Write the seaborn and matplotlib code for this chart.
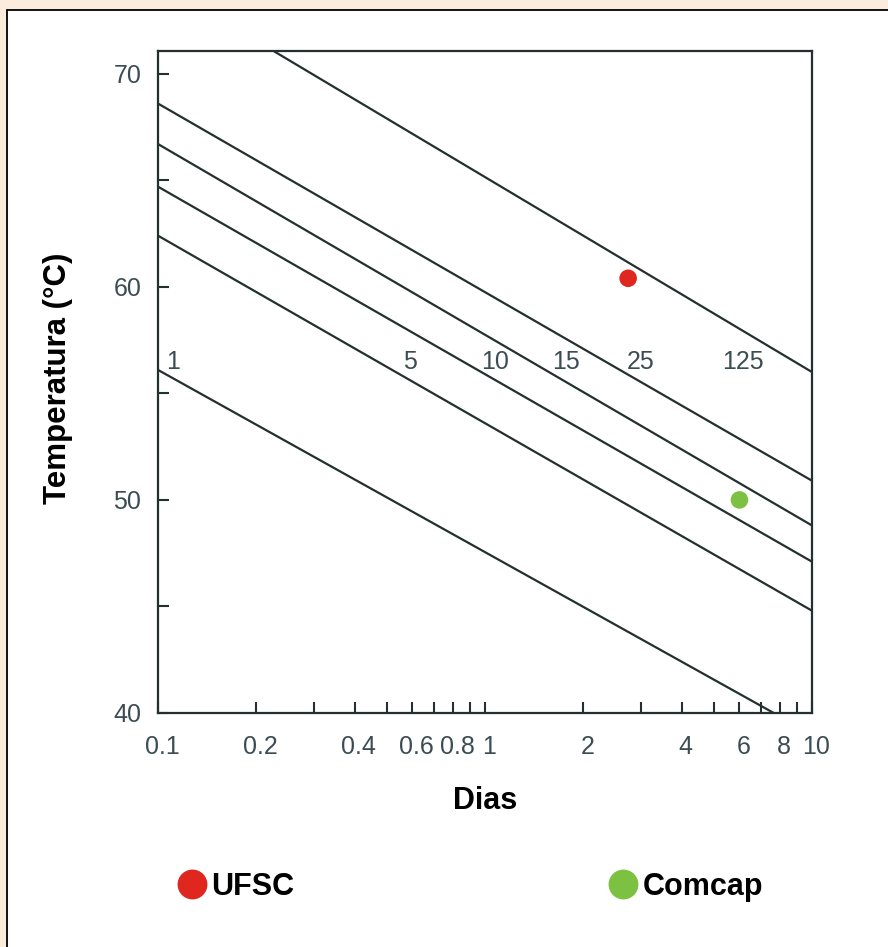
import numpy as np
import pandas as pd
import matplotlib
matplotlib.use('Agg')
import matplotlib.pyplot as plt
import matplotlib.transforms as mtransforms
import seaborn as sns
from matplotlib.patches import Rectangle
from matplotlib.lines import Line2D

# linhas tempo x temperatura (retas em escala log): T em x=0.1 e em x=10
linhas = ['1', '5', '10', '15', '25', '125']
temp_01 = [56.1, 62.4, 64.7, 66.7, 68.6, 74.3]
temp_10 = [39.0, 44.8, 47.1, 48.8, 50.9, 56.0]
dias_ext = [0.1, 10]

# pontos medidos
locais = ['UFSC', 'Comcap']
dias_pt = [2.74, 6.0]
temp_pt = [60.4, 50.0]

# onde escrever o nome de cada linha
rotulo_x = [0.111, 0.59, 1.07, 1.77, 3.0, 6.15]
rotulo_y = 56.47

xticks = [0.1, 0.2, 0.3, 0.4, 0.5, 0.6, 0.7, 0.8, 0.9, 1, 2, 3, 4, 5, 6, 7, 8, 9, 10]
xticklabels = ['0.1', '0.2', '', '0.4', '', '0.6', '', '0.8', '', '1', '2', '', '4', '', '6', '', '8', '', '10']
yticks = [40, 45, 50, 55, 60, 65, 70]
yticklabels = ['40', '', '50', '', '60', '', '70']

rows = []
for nome, a, b in zip(linhas, temp_01, temp_10):
    rows.append({'linha': nome, 'dias': dias_ext[0], 'temp': a})
    rows.append({'linha': nome, 'dias': dias_ext[1], 'temp': b})
df_linhas = pd.DataFrame(rows)
df_pts = pd.DataFrame({'local': locais, 'dias': dias_pt, 'temp': temp_pt})

sns.set_style('white')
plt.rcParams['font.family'] = ['Liberation Sans', 'DejaVu Sans']

peach = '#fcecde'
dark = '#24302f'
tick_col = '#3b4d53'

fig = plt.figure(figsize=(8.88, 9.47), dpi=100, facecolor=peach)
# painel branco com borda preta em cima e à esquerda
fig.patches.append(Rectangle((7 / 888, 0.0), 1.0, 1 - 10 / 947, transform=fig.transFigure,
                             facecolor='white', edgecolor='none', zorder=-10))
fig.lines.append(Line2D([7 / 888, 7 / 888], [0, 1 - 10 / 947], transform=fig.transFigure,
                        color='black', lw=1.3, zorder=-5))
fig.lines.append(Line2D([7 / 888, 1], [1 - 10 / 947, 1 - 10 / 947], transform=fig.transFigure,
                        color='black', lw=1.3, zorder=-5))

ax = fig.add_axes([158 / 888, 1 - 713 / 947, 654 / 888, (713 - 50.7) / 947])
ax.set_facecolor('white')

sns.lineplot(data=df_linhas, x='dias', y='temp', units='linha', estimator=None,
             color=dark, lw=1.6, ax=ax)
sns.scatterplot(data=df_pts, x='dias', y='temp', hue='local',
                palette=['#e0271f', '#7cc142'], s=160, edgecolor='none', ax=ax, zorder=5)

ax.set_xscale('log')
ax.set_xlim(0.1, 10)
ax.set_ylim(40.33, 71.08)

ax.set_xticks(xticks)
ax.set_xticklabels(xticklabels)
ax.xaxis.set_minor_locator(matplotlib.ticker.NullLocator())
ax.set_yticks(yticks)
ax.set_yticklabels(yticklabels)
ax.tick_params(axis='both', direction='in', length=8, width=1.5, colors=dark,
               labelcolor=tick_col, labelsize=18)
ax.tick_params(axis='x', pad=16, bottom=True)
ax.tick_params(axis='y', pad=12, left=True)
shift = mtransforms.ScaledTranslation(4 / 100, 0, fig.dpi_scale_trans)
for lab in ax.get_xticklabels():
    lab.set_transform(lab.get_transform() + shift)
for s in ax.spines.values():
    s.set_color(dark)
    s.set_linewidth(1.6)

for nome, xr in zip(linhas, rotulo_x):
    ax.text(xr, rotulo_y, nome, ha='center', va='center', fontsize=18, color=tick_col)

ax.set_xlabel('Dias', fontsize=22, fontweight='bold', color='black')
ax.set_ylabel('Temperatura (°C)', fontsize=22.5, fontweight='bold', color='black')
ax.xaxis.set_label_coords(0.5, -0.11)
ax.yaxis.set_label_coords(-0.13, 0.505)

sns.move_legend(ax, loc='center left', bbox_to_anchor=(178 / 888, 1 - 887 / 947),
                bbox_transform=fig.transFigure, ncol=2, frameon=False, title=None,
                prop={'weight': 'bold', 'size': 22}, labelcolor='black',
                borderpad=0, borderaxespad=0, handlelength=0.9, handletextpad=0.2,
                columnspacing=10.3, markerscale=1.7)

fig.savefig('out.png', dpi=100, facecolor=peach)
